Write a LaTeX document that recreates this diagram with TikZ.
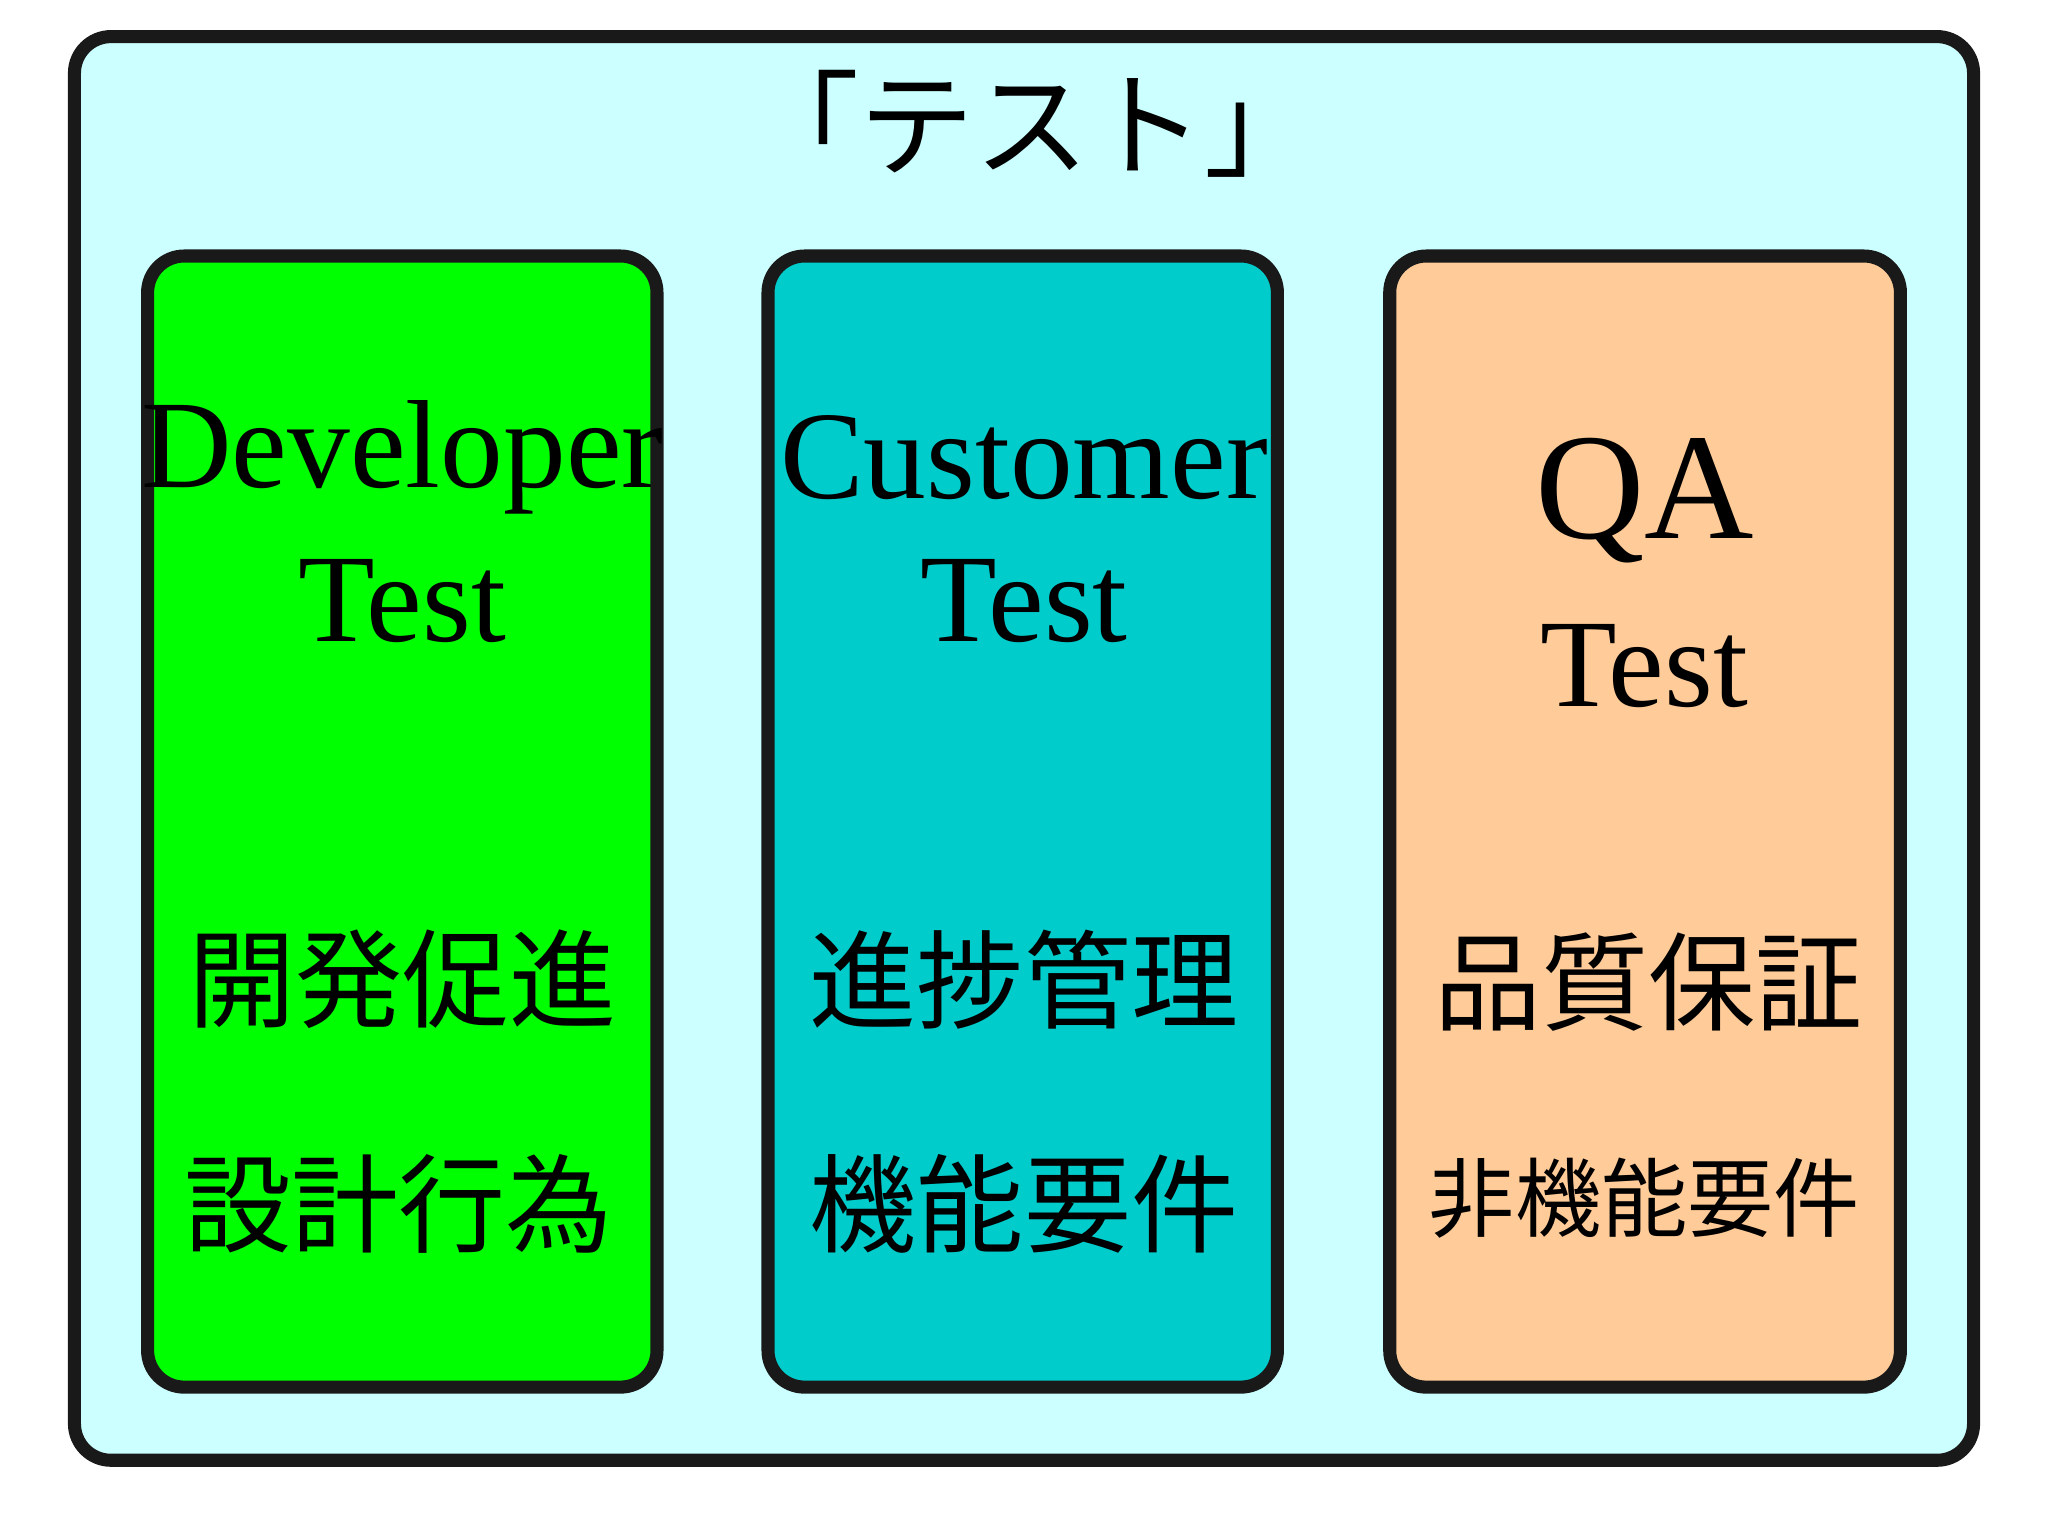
\documentclass[tikz,border=0pt]{standalone}
\usepackage{fontspec}
\setmainfont{Liberation Serif}
\newfontfamily\cjk{Noto Sans CJK JP}
\begin{document}
\begin{tikzpicture}[x=0.5pt,y=-0.5pt,
  box/.style={draw=black!90,line width=5pt,rounded corners=14pt},
  en/.style={font=\fontsize{48}{50}\selectfont},
  jp/.style={font=\cjk\fontsize{41}{44}\selectfont}]
\useasboundingbox (0,0) rectangle (1568,1175);
\fill[white] (0,0) rectangle (1568,1175);
\draw[box,fill={rgb,255:red,204;green,255;blue,255}] (57,28) rectangle (1511,1118);
\node (title) at (790,95) {\cjk\fontsize{44}{48}\selectfont 「テスト」};
\draw[box,fill={rgb,255:red,0;green,255;blue,0}] (113,196) rectangle (503,1062);
\draw[box,fill={rgb,255:red,0;green,204;blue,204}] (588,196) rectangle (978,1062);
\draw[box,fill={rgb,255:red,255;green,204;blue,153}] (1064,196) rectangle (1455,1062);
\node[en] (d1) at (308,350) {Developer};
\node[en] (d2) at (308,460) {Test};
\node[en] (c1) at (784,350) {Customer};
\node[en] (c2) at (784,460) {Test};
\node[font=\fontsize{58}{60}\selectfont] (q1) at (1259,383) {QA};
\node[en] (q2) at (1259,510) {Test};
\node[jp] (j1) at (308,750) {開発促進};
\node[jp] (j2) at (305,922) {設計行為};
\node[jp] (j3) at (784,750) {進捗管理};
\node[jp] (j4) at (784,922) {機能要件};
\node[jp] (j5) at (1262,752) {品質保証};
\node[font=\cjk\fontsize{33}{36}\selectfont] (j6) at (1259,917) {非機能要件};
\end{tikzpicture}
\end{document}
